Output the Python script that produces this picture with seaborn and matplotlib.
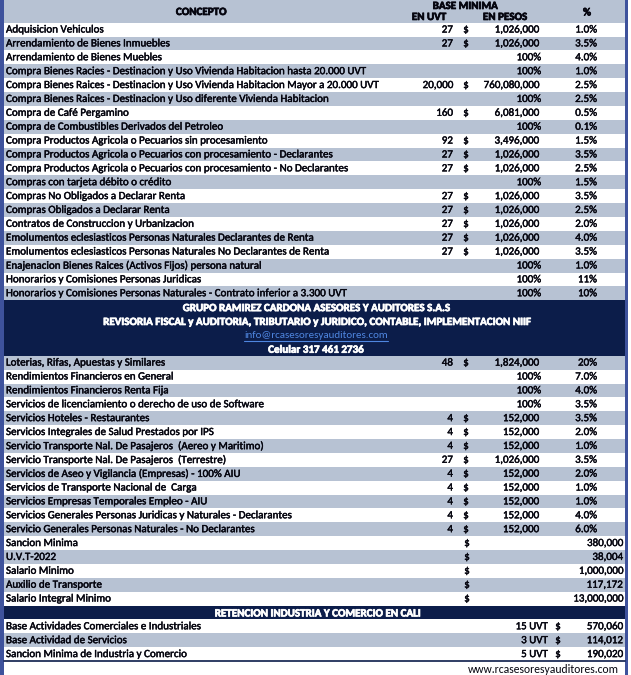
import matplotlib
matplotlib.use("Agg")
import matplotlib.pyplot as plt
import matplotlib.patheffects as pe
import seaborn as sns
import numpy as np
from matplotlib.colors import ListedColormap

sns.set_theme(style="white")
plt.rcParams['font.family'] = ['Carlito', 'Lato', 'DejaVu Sans']

# ---------------- data ----------------
header_cols = ["CONCEPTO", "BASE MINIMA", "EN UVT", "EN PESOS", "%"]

concepts_top = [
    "Adquisicion Vehiculos",
    "Arrendamiento de Bienes Inmuebles",
    "Arrendamiento de Bienes Muebles",
    "Compra Bienes Racies - Destinacion y Uso Vivienda Habitacion hasta 20.000 UVT",
    "Compra Bienes Raices - Destinacion y Uso Vivienda Habitacion Mayor a 20.000 UVT",
    "Compra Bienes Raices - Destinacion y Uso diferente Vivienda Habitacion",
    "Compra de Café Pergamino",
    "Compra de Combustibles Derivados del Petroleo",
    "Compra Productos Agricola o Pecuarios sin procesamiento",
    "Compra Productos Agricola o Pecuarios con procesamiento - Declarantes",
    "Compra Productos Agricola o Pecuarios con procesamiento - No Declarantes",
    "Compras con tarjeta débito o crédito",
    "Compras No Obligados a Declarar Renta",
    "Compras Obligados a Declarar Renta",
    "Contratos de Construccion y Urbanizacion",
    "Emolumentos eclesiasticos Personas Naturales Declarantes de Renta",
    "Emolumentos eclesiasticos Personas Naturales No Declarantes de Renta",
    "Enajenacion Bienes Raices (Activos Fijos) persona natural",
    "Honorarios y Comisiones Personas Juridicas",
    "Honorarios y Comisiones Personas Naturales - Contrato inferior a 3.300 UVT",
]
uvt_top = [27, 27, None, None, 20000, None, 160, None, 92, 27, 27, None,
           27, 27, 27, 27, 27, None, None, None]
pesos_top = [1026000, 1026000, None, None, 760080000, None, 6081000, None,
             3496000, 1026000, 1026000, None, 1026000, 1026000, 1026000,
             1026000, 1026000, None, None, None]
pct_top = [1.0, 3.5, 4.0, 1.0, 2.5, 2.5, 0.5, 0.1, 1.5, 3.5, 2.5, 1.5,
           3.5, 2.5, 2.0, 4.0, 3.5, 1.0, 11, 10]

banner_lines = [
    "GRUPO RAMIREZ CARDONA ASESORES Y AUDITORES S.A.S",
    "REVISORIA FISCAL y AUDITORIA, TRIBUTARIO y JURIDICO, CONTABLE, IMPLEMENTACION NIIF",
    "info@rcasesoresyauditores.com",
    "Celular 317 461 2736",
]

concepts_low = [
    "Loterias, Rifas, Apuestas y Similares",
    "Rendimientos Financieros en General",
    "Rendimientos Financieros Renta Fija",
    "Servicios de licenciamiento o derecho de uso de Software",
    "Servicios Hoteles - Restaurantes",
    "Servicios Integrales de Salud Prestados por IPS",
    "Servicio Transporte Nal. De Pasajeros  (Aereo y Maritimo)",
    "Servicio Transporte Nal. De Pasajeros  (Terrestre)",
    "Servicios de Aseo y Vigilancia (Empresas) - 100% AIU",
    "Servicios de Transporte Nacional de  Carga",
    "Servicios Empresas Temporales Empleo - AIU",
    "Servicios Generales Personas Juridicas y Naturales - Declarantes",
    "Servicio Generales Personas Naturales - No Declarantes",
]
uvt_low = [48, None, None, None, 4, 4, 4, 27, 4, 4, 4, 4, 4]
pesos_low = [1824000, None, None, None, 152000, 152000, 152000, 1026000,
             152000, 152000, 152000, 152000, 152000]
pct_low = [20, 7.0, 4.0, 3.5, 3.5, 2.0, 1.0, 3.5, 2.0, 1.0, 1.0, 4.0, 6.0]

const_names = ["Sancion Minima", "U.V.T-2022", "Salario Minimo",
               "Auxilio de Transporte", "Salario Integral Minimo"]
const_values = [380000, 38004, 1000000, 117172, 13000000]

ica_title = "RETENCION INDUSTRIA Y COMERCIO EN CALI"
ica_names = ["Base Actividades Comerciales e Industriales",
             "Base Actividad de Servicios",
             "Sancion Minima de Industria y Comercio"]
ica_uvt = [15, 3, 5]
ica_values = [570060, 114012, 190020]

full_base = 100
website = "www.rcasesoresyauditores.com"

# ---------------- styling ----------------
WHITE = "#ffffff"
GRAY = "#b7c2d3"
NAVY = "#0c1d4a"
BORDER = "#3e529c"
LINK = "#4f86e0"
TXT = "#05050f"

W, H = 631, 675
TOP = 22.7
fig = plt.figure(figsize=(W / 100, H / 100), dpi=100)
fig.patch.set_facecolor("white")

kinds = []
kinds += [i % 2 for i in range(len(concepts_top))]
kinds += [2] * len(banner_lines)
n_low = len(concepts_low) + len(const_names)
kinds += [1 - (i % 2) for i in range(n_low)]
kinds += [2]
kinds += [i % 2 for i in range(len(ica_names))]
kinds += [0]
nrows = len(kinds)
pitch = (H - TOP) / nrows

cmap = ListedColormap([WHITE, GRAY, NAVY])
X0, X1 = 4, 625

ax_main = fig.add_axes([X0 / W, 0, (X1 - X0) / W, (H - TOP) / H])
sns.heatmap(np.array(kinds).reshape(-1, 1), ax=ax_main, cmap=cmap,
            vmin=-0.5, vmax=2.5, cbar=False, xticklabels=False,
            yticklabels=False, linewidths=0)
ax_main.set_axis_off()

ax_head = fig.add_axes([X0 / W, (H - TOP) / H, (X1 - X0) / W, TOP / H])
sns.heatmap(np.array([[1]]), ax=ax_head, cmap=cmap, vmin=-0.5, vmax=2.5,
            cbar=False, xticklabels=False, yticklabels=False)
ax_head.set_axis_off()

ov = fig.add_axes([0, 0, 1, 1])
ov.set_xlim(0, W)
ov.set_ylim(H, 0)
ov.set_axis_off()
ov.patch.set_alpha(0)

ov.add_patch(plt.Rectangle((0, 0), 3.5, H, color=BORDER, lw=0))
ov.add_patch(plt.Rectangle((X1, 0), 3.2, H, color=BORDER, lw=0))
ov.plot([X0, X1], [TOP + (nrows - 1) * pitch, TOP + (nrows - 1) * pitch],
        color=NAVY, lw=1.2)

renderer = fig.canvas.get_renderer()


def fit_size(s, target_px, weight="normal", base=8.0):
    t = ov.text(0, 0, s, fontsize=base, weight=weight)
    w = t.get_window_extent(renderer).width
    t.remove()
    return base * target_px / w


FS = fit_size(concepts_top[4], 372)
HEAVY = [pe.withStroke(linewidth=0.3, foreground=TXT)]
BOLD_DARK = [pe.withStroke(linewidth=0.5, foreground=TXT)]
BOLD_WHITE = [pe.withStroke(linewidth=0.5, foreground="white")]


def txt(x, y, s, ha="left", **kw):
    kw.setdefault("fontsize", FS)
    kw.setdefault("color", TXT)
    kw.setdefault("path_effects", HEAVY)
    return ov.text(x, y, s, ha=ha, va="center", **kw)


def yc(i):
    return TOP + (i + 0.5) * pitch + 0.4


def pct_fmt(v):
    return f"{v:.0f}%" if v >= 10 else f"{v:.1f}%"


hb = dict(weight="bold", path_effects=BOLD_DARK)
txt(201, 11.5, header_cols[0], ha="center", **hb)
txt(465, 5.5, header_cols[1], ha="center", **hb)
txt(429, 16.5, header_cols[2], ha="center", **hb)
txt(505, 16.5, header_cols[3], ha="center", **hb)
txt(587, 12, header_cols[4], ha="center", **hb)

X_CON, X_UVT, X_DOL, X_PES, X_PCT = 6, 453, 466, 539, 597


def data_row(i, name, uvt, pesos, pct):
    y = yc(i)
    txt(X_CON, y, name)
    if uvt is None:
        txt(X_PES + 2, y, f"{full_base}%", ha="right")
    else:
        txt(X_UVT, y, f"{uvt:,}", ha="right")
        txt(X_DOL, y, "$", ha="center")
        txt(X_PES, y, f"{pesos:,}", ha="right")
    txt(X_PCT, y, pct_fmt(pct), ha="right")


r = 0
for n, u, p, c in zip(concepts_top, uvt_top, pesos_top, pct_top):
    data_row(r, n, u, p, c)
    r += 1

for k, line in enumerate(banner_lines):
    y = yc(r)
    if "@" in line:
        t = txt(316, y, line, ha="center", color=LINK, path_effects=[])
        bb = t.get_window_extent(renderer)
        ov.plot([316 - bb.width / 2, 316 + bb.width / 2], [y + 5.2, y + 5.2],
                color=LINK, lw=0.8)
    else:
        txt(316, y, line, ha="center", color="white", weight="bold",
            path_effects=BOLD_WHITE)
    r += 1

for n, u, p, c in zip(concepts_low, uvt_low, pesos_low, pct_low):
    data_row(r, n, u, p, c)
    r += 1

for n, v in zip(const_names, const_values):
    y = yc(r)
    txt(X_CON, y, n)
    txt(467, y, "$", ha="center")
    txt(623, y, f"{v:,}", ha="right")
    r += 1

txt(317, yc(r), ica_title, ha="center", color="white", weight="bold",
    path_effects=BOLD_WHITE)
r += 1
for n, u, v in zip(ica_names, ica_uvt, ica_values):
    y = yc(r)
    txt(X_CON, y, n)
    txt(548, y, f"{u} UVT", ha="right")
    txt(558, y, "$", ha="center")
    txt(623, y, f"{v:,}", ha="right")
    r += 1

txt(619, yc(r) + 1, website, ha="right", fontsize=FS * 1.05, path_effects=[])

fig.savefig("out.png", dpi=100)
